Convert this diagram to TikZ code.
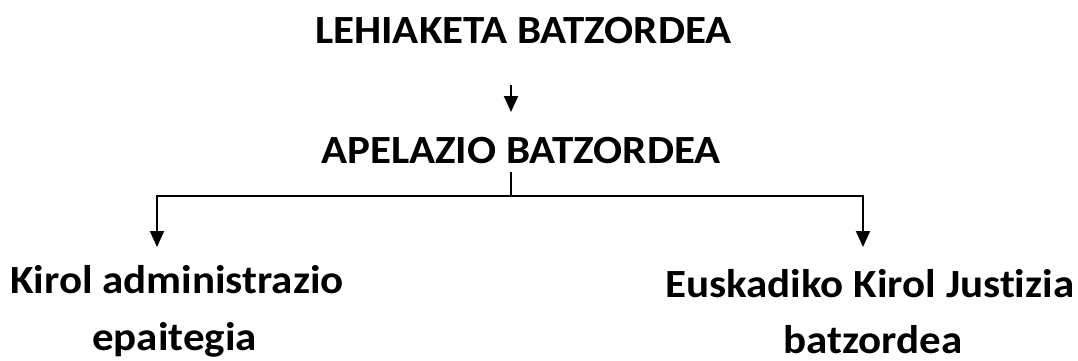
\documentclass[tikz,border=0pt]{standalone}
\usepackage{fontspec}
\setmainfont{Carlito}[Ligatures={NoCommon,NoContextual}]
\usetikzlibrary{arrows.meta}
\newcommand{\wide}[1]{\scalebox{1.075}[1]{#1}}
\begin{document}
\begin{tikzpicture}[x=1pt,y=-1pt,
  lbl/.style={font=\bfseries\fontsize{40}{48}\selectfont, inner sep=0pt, anchor=base west},
  conn/.style={line width=2pt},
  arr/.style={conn,-{Triangle[width=14pt,length=16pt]}}]
\useasboundingbox (0,0) rectangle (1078,360);
\node[lbl] (lehi) at (315,43) {\wide{LEHIAKETA BATZORDEA}};
\node[lbl] (apel) at (321,163) {\wide{APELAZIO BATZORDEA}};
\node[lbl] (kirol) at (10,293) {\wide{Kirol administrazio}};
\node[lbl] (epai) at (92,350) {\wide{epaitegia}};
\node[lbl] (eusk) at (665,297) {\wide{Euskadiko Kirol Justizia}};
\node[lbl] (batz) at (783,353) {\wide{batzordea}};
\coordinate (top1) at (511,85);
\coordinate (top2) at (511,112);
\coordinate (mid1) at (511,172);
\coordinate (midj) at (511,196);
\coordinate (lc) at (157,196);
\coordinate (lt) at (157,247);
\coordinate (rc) at (863,196);
\coordinate (rt) at (863,247);
\draw[arr] (top1) -- (top2);
\draw[conn] (mid1) -- (midj);
\draw[arr] (midj) -- (lc) -- (lt);
\draw[arr] (midj) -- (rc) -- (rt);
\end{tikzpicture}
\end{document}
